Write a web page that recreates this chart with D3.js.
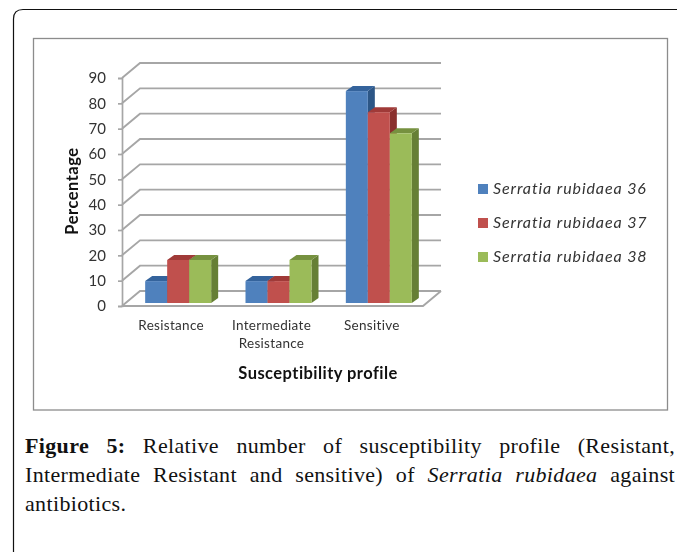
<!DOCTYPE html>
<html><head><meta charset="utf-8">
<script src="https://cdn.jsdelivr.net/npm/d3@7/dist/d3.min.js"></script>
<style>html,body{margin:0;padding:0;background:#fff}svg{display:block}</style>
</head><body><svg id="c" width="677" height="552"></svg>
<script>
const categories = [["Resistance"], ["Intermediate", "Resistance"], ["Sensitive"]];
const categoryKeys = ["Resistance", "Intermediate Resistance", "Sensitive"];
const seriesNames = ["Serratia rubidaea 36", "Serratia rubidaea 37", "Serratia rubidaea 38"];
const series36 = [8.33, 8.33, 83.33];
const series37 = [16.67, 8.33, 75];
const series38 = [16.67, 16.67, 66.67];
const yTicks = [0, 10, 20, 30, 40, 50, 60, 70, 80, 90];
const faceColors = ["#4f81bd", "#c0504d", "#9bbb59"];
const sideColors = ["#2c5686", "#8a302e", "#667f35"];
const topColors = ["#34639c", "#a03a38", "#76913f"];
const captionBold = "Figure 5:";
const captionLine1 = ["Relative", "number", "of", "susceptibility", "profile", "(Resistant,"];
const captionLine2a = ["Intermediate", "Resistant", "and", "sensitive)", "of"];
const captionLine2i = ["Serratia", "rubidaea"];
const captionLine2b = ["against"];
const captionLine3 = "antibiotics.";

const svg = d3.select("#c");
const sans = "Lato, 'Open Sans', sans-serif";
const serif = "'Liberation Serif', serif";

svg.append("path").attr("fill", "none").attr("stroke", "#111").attr("stroke-width", 1.2)
  .attr("d", "M13.5,552 V19 Q13.5,9.5 23,9.5 H677");

const chart = svg.append("g").style("filter", "blur(0.5px)");
chart.append("rect").attr("x", 33.5).attr("y", 38.5).attr("width", 634).attr("height", 371.5)
  .attr("fill", "#fff").attr("stroke", "#8c8c8c").attr("stroke-width", 1.3);

const y = d3.scaleLinear().domain([0, 90]).range([306, 78]);
const x0 = d3.scaleBand().domain(categoryKeys).range([122, 423]);
const x1 = d3.scaleBand().domain(seriesNames).range([0, 66]);
const depthX = 18, depthY = 15, grid = "#a6a6a6";

const walls = chart.append("g").attr("fill", "none").attr("stroke", grid).attr("stroke-width", 1.9);
yTicks.forEach(t => {
  walls.append("path").attr("d", d3.line()([[x0.range()[0], y(t)], [x0.range()[0] + depthX, y(t) - depthY], [x0.range()[1] + depthX, y(t) - depthY]]));
});
walls.append("path").attr("d", d3.line()([[x0.range()[0], y(0)], [x0.range()[1], y(0)], [x0.range()[1] + depthX, y(0) - depthY]]));

const yAxis = d3.axisLeft(y).tickValues(yTicks).tickSize(4).tickPadding(12);
const ya = chart.append("g").attr("transform", "translate(122,0)").call(yAxis);
ya.selectAll("path,line").attr("stroke", grid).attr("stroke-width", 1.7);
ya.selectAll("text").attr("font-family", sans).attr("font-size", 15).attr("fill", "#333");

const barShiftX = 6, barShiftY = 3, bw = x1.bandwidth(), sideX = 7, sideY = 5;
const allSeries = [series36, series37, series38];
categoryKeys.forEach((c, ci) => {
  seriesNames.forEach((s, si) => {
    const v = allSeries[si][ci];
    const xa = x0(c) + (x0.bandwidth() - 66) / 2 + barShiftX + x1(s), xb = xa + bw;
    const yb = y(0) - barShiftY, yt = y(v) - barShiftY - 0.8;
    chart.append("polygon").attr("fill", sideColors[si])
      .attr("points", [[xb, yb], [xb + sideX, yb - sideY], [xb + sideX, yt - sideY], [xb, yt]].join(" "));
    chart.append("polygon").attr("fill", topColors[si])
      .attr("points", [[xa, yt], [xa + sideX, yt - sideY], [xb + sideX, yt - sideY], [xb, yt]].join(" "));
    chart.append("rect").attr("x", xa).attr("y", yt).attr("width", bw).attr("height", yb - yt).attr("fill", faceColors[si]);
  });
});

categories.forEach((lines, i) => {
  lines.forEach((t, j) => {
    chart.append("text").attr("x", x0(categoryKeys[i]) + x0.bandwidth() / 2 - 1).attr("y", 329.5 + j * 18)
      .attr("text-anchor", "middle").attr("font-family", sans).attr("font-size", 13.5).attr("letter-spacing", 0.3).attr("fill", "#333").text(t);
  });
});
chart.append("text").attr("x", 318).attr("y", 379).attr("text-anchor", "middle")
  .attr("font-family", sans).attr("font-size", 16.5).attr("letter-spacing", 0.45).attr("font-weight", 700).attr("fill", "#111").text("Susceptibility profile");
chart.append("text").attr("transform", "translate(78,191) rotate(-90)").attr("text-anchor", "middle")
  .attr("font-family", sans).attr("font-size", 16.5).attr("letter-spacing", 0.5).attr("font-weight", 700).attr("fill", "#111").text("Percentage");

const legendY = d3.scalePoint().domain(seriesNames).range([189, 257]);
seriesNames.forEach((s, i) => {
  chart.append("rect").attr("x", 478).attr("y", legendY(s) - 5).attr("width", 10).attr("height", 10).attr("fill", faceColors[i]);
  chart.append("text").attr("x", 493).attr("y", legendY(s) + 5).attr("font-family", sans).attr("font-style", "italic")
    .attr("font-size", 16).attr("letter-spacing", 0.9).attr("fill", "#333").text(s);
});

const capSize = 22, capSpacing = 0.35;
function words(list, base, left, right) {
  const g = svg.append("g").attr("font-family", serif).attr("font-size", capSize).attr("letter-spacing", capSpacing).attr("fill", "#111");
  const nodes = list.map(w => g.append("text").attr("y", base).attr("font-weight", w.b ? 700 : 400)
    .attr("font-style", w.i ? "italic" : "normal").text(w.t));
  const widths = nodes.map(n => n.node().getComputedTextLength());
  const gap = (right - left - d3.sum(widths)) / (list.length - 1);
  let cx = left;
  nodes.forEach((n, i) => { n.attr("x", cx); cx += widths[i] + gap; });
}
const plain = a => a.map(t => ({t}));
words([...captionBold.split(" ").map(t => ({t, b: true})), ...plain(captionLine1)], 453, 25, 675);
words([...plain(captionLine2a), ...captionLine2i.map(t => ({t, i: true})), ...plain(captionLine2b)], 482, 25, 675);
svg.append("text").attr("x", 25).attr("y", 511).attr("font-family", serif).attr("font-size", capSize).attr("letter-spacing", capSpacing).attr("fill", "#111").text(captionLine3);
</script></body></html>
